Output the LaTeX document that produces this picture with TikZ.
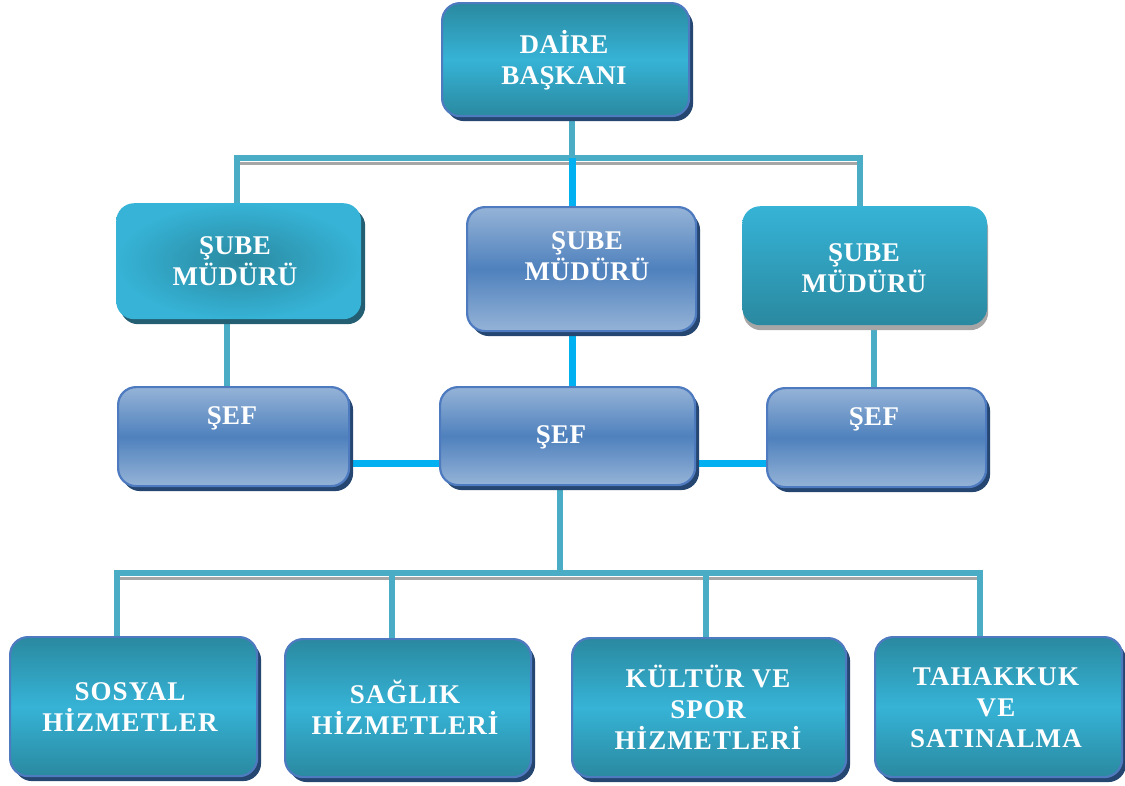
\documentclass[tikz,border=0pt]{standalone}
\usepackage{fontspec}
\setmainfont{Liberation Serif}
\usetikzlibrary{shadows,backgrounds}
\definecolor{tealD}{HTML}{2A89A0}
\definecolor{tealL}{HTML}{36B3D6}
\definecolor{blueL}{HTML}{95B3D7}
\definecolor{blueM}{HTML}{4F81BD}
\definecolor{edgeB}{HTML}{4E7AC0}
\definecolor{navy}{HTML}{254670}
\definecolor{shTeal}{HTML}{235E72}
\definecolor{lineT}{HTML}{4BACC6}
\definecolor{lineC}{HTML}{00B0F0}
\definecolor{lineS}{HTML}{A6A6A6}
\begin{document}
\begin{tikzpicture}[x=1pt,y=-1pt,
  basebox/.style={rectangle, rounded corners=18pt, inner sep=0pt, anchor=north west},
  navyshadow/.style={drop shadow={shadow xshift=4pt, shadow yshift=-5pt, fill=navy, opacity=1}},
  tealbox/.style={basebox, draw=edgeB, line width=2.2pt, top color=tealD, bottom color=tealD, middle color=tealL, navyshadow},
  bluebox/.style={basebox, draw=edgeB, line width=2.2pt, top color=blueL, bottom color=blueL, middle color=blueM, navyshadow},
  radbox/.style={basebox, shading=radial, inner color=tealD, outer color=tealL,
     drop shadow={shadow xshift=4pt, shadow yshift=-5pt, fill=shTeal, opacity=1}},
  gradbox/.style={basebox, top color=tealL, bottom color=tealD,
     drop shadow={shadow xshift=1pt, shadow yshift=-5pt, fill=lineS, opacity=1}},
  lbl/.style={align=center, text=white, font=\fontsize{27}{30.5}\selectfont\bfseries\addfontfeatures{LetterSpace=1.5}, inner sep=0pt},
  wlbl/.style={lbl, font=\fontsize{27}{31}\selectfont\bfseries\addfontfeatures{LetterSpace=4}},
  tline/.style={draw=lineT, line width=6pt},
  cline/.style={draw=lineC, line width=7pt},
  sline/.style={draw=lineS, line width=3pt}
]
\useasboundingbox (0,0) rectangle (1125,785);
% boxes
\node[tealbox, minimum width=247pt, minimum height=113pt] (daire) at (441,2) {};
\node[radbox,  minimum width=245pt, minimum height=116pt] (sube1) at (116,203) {};
\node[bluebox, minimum width=229pt, minimum height=124pt] (sube2) at (466,206) {};
\node[gradbox, minimum width=245pt, minimum height=119pt] (sube3) at (742,206) {};
\node[bluebox, minimum width=231pt, minimum height=99pt] (sef1) at (117,386) {};
\node[bluebox, minimum width=255pt, minimum height=98pt] (sef2) at (439,386) {};
\node[bluebox, minimum width=219pt, minimum height=99pt] (sef3) at (766,387) {};
\node[tealbox, minimum width=247pt, minimum height=139pt] (b1) at (9,636) {};
\node[tealbox, minimum width=246pt, minimum height=138pt] (b2) at (284,638) {};
\node[tealbox, minimum width=274pt, minimum height=139pt] (b3) at (571,637) {};
\node[tealbox, minimum width=247pt, minimum height=140pt] (b4) at (874,636) {};
% labels
\node[lbl] (tdaire) at (564,60) {DAİRE\\BAŞKANI};
\node[lbl] (tsube1) at (235,261) {ŞUBE\\MÜDÜRÜ};
\node[lbl] (tsube2) at (587,256) {ŞUBE\\MÜDÜRÜ};
\node[lbl] (tsube3) at (864,268) {ŞUBE\\MÜDÜRÜ};
\node[lbl] (tsef1) at (232,418) {ŞEF};
\node[lbl] (tsef2) at (561,437) {ŞEF};
\node[lbl] (tsef3) at (874,419) {ŞEF};
\node[wlbl] (tb1) at (130,707) {SOSYAL\\HİZMETLER};
\node[wlbl] (tb2) at (405,707) {SAĞLIK\\HİZMETLERİ};
\node[wlbl] (tb3) at (708,707) {KÜLTÜR VE\\SPOR\\HİZMETLERİ};
\node[wlbl] (tb4) at (996,708) {TAHAKKUK\\VE\\SATINALMA};
% connectors
\begin{pgfonlayer}{background}
\coordinate (tm) at (572,158);
\coordinate (tl) at (237,158);
\coordinate (tr) at (860,158);
\coordinate (x1) at (227,0);
\coordinate (x3) at (874,0);
\coordinate (hy) at (0,463);
\coordinate (bm) at (560,573);
\coordinate (bl) at (117,573);
\coordinate (bc2) at (392,573);
\coordinate (bc3) at (706,573);
\coordinate (br) at (980,573);
\draw[sline] ([yshift=-5pt]tl) -- ([yshift=-5pt]tr);
\draw[sline] ([yshift=-5pt]bl) -- ([yshift=-5pt]br);
\draw[tline] (daire.south -| tm) -- (tm);
\draw[tline] (tl |- sube1.north) -- (tl) -- (tr) -- (tr |- sube3.north);
\draw[cline] (tm) -- (tm |- sube2.north);
\draw[tline] (sube1.south -| x1) -- (x1 |- sef1.north);
\draw[cline] (sube2.south -| tm) -- (tm |- sef2.north);
\draw[tline] (sube3.south -| x3) -- (x3 |- sef3.north);
\draw[cline] (sef1.east |- hy) -- (sef2.west |- hy);
\draw[cline] (sef2.east |- hy) -- (sef3.west |- hy);
\draw[tline] (sef2.south -| bm) -- (bm);
\draw[tline] (bl |- b1.north) -- (bl) -- (br) -- (br |- b4.north);
\draw[tline] (bc2) -- (bc2 |- b2.north);
\draw[tline] (bc3) -- (bc3 |- b3.north);
\end{pgfonlayer}
\end{tikzpicture}
\end{document}
